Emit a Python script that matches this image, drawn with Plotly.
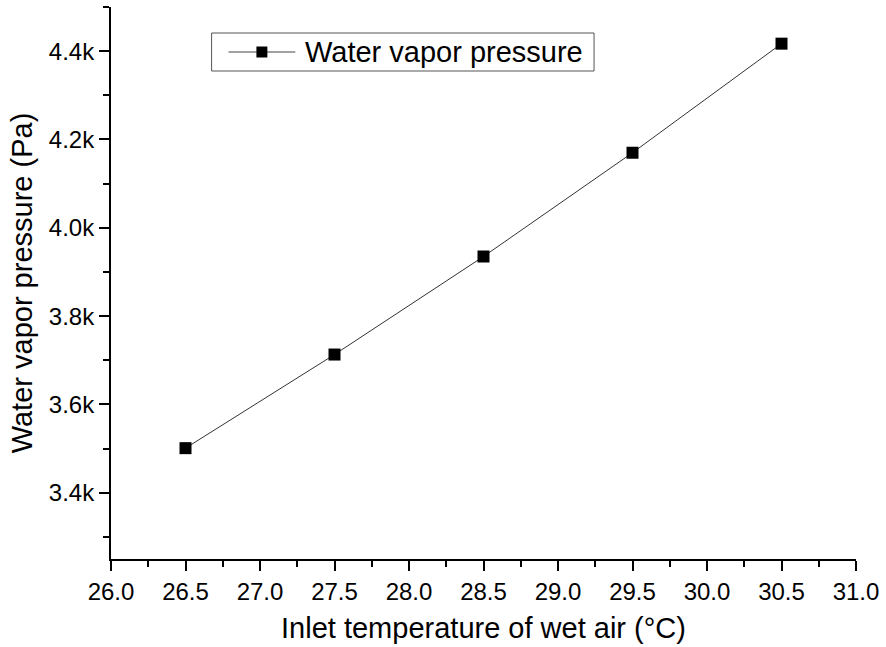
import plotly.graph_objects as go

temps = [26.5, 27.5, 28.5, 29.5, 30.5]
pressure = [3501, 3713, 3935, 4170, 4417]
series_name = "Water vapor pressure"

x_ticks = [26.0, 26.5, 27.0, 27.5, 28.0, 28.5, 29.0, 29.5, 30.0, 30.5, 31.0]
x_ticklabels = ["26.0", "26.5", "27.0", "27.5", "28.0", "28.5", "29.0", "29.5", "30.0", "30.5", "31.0"]
y_ticks = [3400, 3600, 3800, 4000, 4200, 4400]
y_ticklabels = ["3.4k", "3.6k", "3.8k", "4.0k", "4.2k", "4.4k"]

font_family = "Liberation Sans, Arial, sans-serif"

# plot area in pixels (used only to place the hand-drawn legend)
W, H = 886, 647
ML, MR, MT, MB = 111, 27, 7, 88
PW, PH = W - ML - MR, H - MT - MB


def px(x):
    return (x - ML) / PW


def py(y):
    return (H - MB - y) / PH


fig = go.Figure()
fig.add_trace(go.Scatter(
    x=temps, y=pressure, mode="lines+markers", name=series_name,
    line=dict(color="#333333", width=1),
    marker=dict(symbol="square", size=12, color="black"),
    showlegend=False,
))

axis_common = dict(
    showline=True, linecolor="black", linewidth=2, mirror=False,
    showgrid=False, zeroline=False,
    ticks="outside", ticklen=10, tickwidth=2, tickcolor="black",
    tickfont=dict(family=font_family, size=24, color="black"),
)

fig.update_xaxes(
    **axis_common,
    range=[26.0, 31.0], tickvals=x_ticks, ticktext=x_ticklabels,
    minor=dict(dtick=0.25, ticks="outside", ticklen=6, tickwidth=2, tickcolor="black", showgrid=False),
    title=dict(text="Inlet temperature of wet air (°C)", font=dict(family=font_family, size=29, color="black"), standoff=14),
)
fig.update_yaxes(
    **axis_common,
    range=[3250, 4500], tickvals=y_ticks, ticktext=y_ticklabels,
    minor=dict(dtick=100, ticks="outside", ticklen=6, tickwidth=2, tickcolor="black", showgrid=False),
    title=dict(text="Water vapor pressure (Pa)", font=dict(family=font_family, size=29, color="black"), standoff=8),
)

# hand-drawn legend (Origin style)
shapes = [
    dict(type="rect", xref="paper", yref="paper", x0=px(212), x1=px(596), y0=py(71), y1=py(33),
         line=dict(color="#555555", width=1), fillcolor="white", layer="above"),
    dict(type="line", xref="paper", yref="paper", x0=px(229), x1=px(296), y0=py(52), y1=py(52),
         line=dict(color="#444444", width=1), layer="above"),
    dict(type="rect", xref="paper", yref="paper", x0=px(257), x1=px(268), y0=py(57.5), y1=py(46.5),
         line=dict(color="black", width=0), fillcolor="black", layer="above"),
]
annotations = [
    dict(text=series_name, xref="paper", yref="paper", x=px(304), y=py(52), xanchor="left", yanchor="middle",
         showarrow=False, font=dict(family=font_family, size=29, color="black")),
]

fig.update_layout(
    width=W, height=H,
    margin=dict(l=ML, r=MR, t=MT, b=MB),
    paper_bgcolor="white", plot_bgcolor="white",
    showlegend=False,
    shapes=shapes,
    annotations=annotations,
)

fig.write_html("out.html")
